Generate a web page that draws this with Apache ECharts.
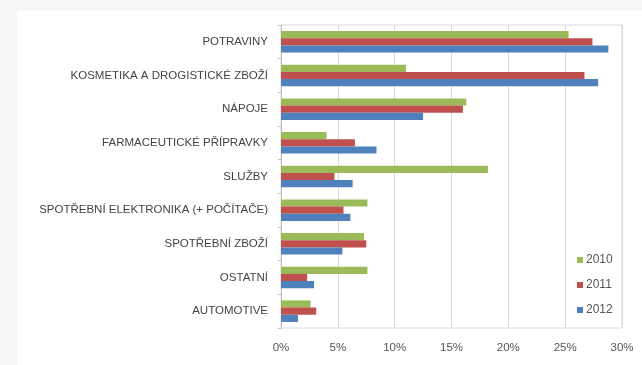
<!DOCTYPE html>
<html>
<head>
<meta charset="utf-8">
<script src="https://cdn.jsdelivr.net/npm/echarts@6/dist/echarts.min.js"></script>
<style>
  html, body { margin: 0; padding: 0; background: #f7f7f7; }
  #chart { width: 642px; height: 365px; }
</style>
</head>
<body>
<div id="chart"></div>
<script>
// Market share by segment (%), one series per year
const categories = [
  'POTRAVINY',
  'KOSMETIKA A DROGISTICKÉ ZBOŽÍ',
  'NÁPOJE',
  'FARMACEUTICKÉ PŘÍPRAVKY',
  'SLUŽBY',
  'SPOTŘEBNÍ ELEKTRONIKA (+ POČÍTAČE)',
  'SPOTŘEBNÍ ZBOŽÍ',
  'OSTATNÍ',
  'AUTOMOTIVE'
];
const years = ['2010', '2011', '2012'];
const values2010 = [25.3, 11.0, 16.3, 4.0, 18.2, 7.6, 7.3, 7.6, 2.6];
const values2011 = [27.4, 26.7, 16.0, 6.5, 4.7, 5.5, 7.5, 2.3, 3.1];
const values2012 = [28.8, 27.9, 12.5, 8.4, 6.3, 6.1, 5.4, 2.9, 1.5];
const xTicks = [0, 5, 10, 15, 20, 25, 30];

const colors = ['#9bbb59', '#c0504d', '#4f81bd'];
const font = '"Liberation Sans", Arial, sans-serif';

const chart = echarts.init(document.getElementById('chart'), null, { renderer: 'canvas' });

const seriesData = [values2010, values2011, values2012];

chart.setOption({
  animation: false,
  backgroundColor: 'transparent',
  graphic: [{
    type: 'rect',
    left: 17, top: 11,
    shape: { width: 642, height: 365 },
    style: { fill: '#ffffff' },
    z: -10
  }],
  grid: {
    left: 281, right: 20, top: 25, bottom: 37,
    show: true,
    borderColor: '#d9d9d9',
    borderWidth: 1
  },
  legend: {
    orient: 'vertical',
    left: 572, top: 249,
    itemWidth: 6, itemHeight: 6,
    itemGap: 13,
    icon: 'rect',
    data: years,
    textStyle: { fontFamily: font, fontSize: 12, color: '#555', padding: [0, 0, 0, -2] }
  },
  xAxis: {
    type: 'value',
    min: 0, max: 30, interval: 5,
    axisLine: { show: false },
    axisTick: { show: false },
    splitLine: { lineStyle: { color: '#d9d9d9' } },
    axisLabel: {
      fontFamily: font, fontSize: 11.5, color: '#555', margin: 14,
      formatter: v => (xTicks.includes(v) ? v + '%' : '')
    }
  },
  yAxis: {
    type: 'category',
    inverse: true,
    data: categories,
    axisLine: { lineStyle: { color: '#bfbfbf' } },
    axisTick: { show: true, length: 3, lineStyle: { color: '#bfbfbf' } },
    axisLabel: { fontFamily: font, fontSize: 11.5, color: '#444', margin: 13 }
  },
  series: years.map((y, i) => ({
    name: y,
    type: 'bar',
    data: seriesData[i],
    itemStyle: { color: colors[i] },
    barGap: '0%',
    barCategoryGap: '36%'
  }))
});
</script>
</body>
</html>
